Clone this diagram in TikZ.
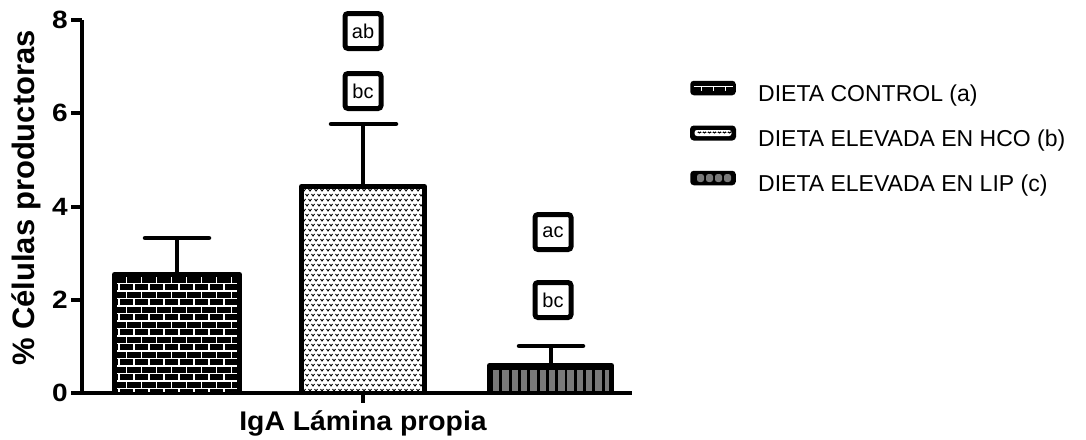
\documentclass[tikz,border=0pt]{standalone}
\usepackage{fontspec}
\setmainfont{Liberation Sans}
\begin{document}
\begin{tikzpicture}[x=1pt,y=-1pt,
  axisline/.style={line width=4.5pt},
  barout/.style={draw=black, line width=5pt, line join=round},
  errline/.style={line width=4.5pt},
  capline/.style={line width=4.5pt, line cap=round},
  letterbox/.style={draw, line width=5pt, rounded corners=3pt, fill=white, minimum width=36pt, minimum height=35pt, inner sep=0pt, font=\fontsize{20}{22}\selectfont},
  ticklab/.style={anchor=east, font=\bfseries\fontsize{25}{28}\selectfont, inner sep=0pt, xscale=1.12},
  legtext/.style={anchor=base west, font=\fontsize{23}{26}\selectfont, inner sep=0pt},
  swatch/.style={draw=black, fill=black, line width=2.5pt, rounded corners=2.5pt, minimum width=43pt, minimum height=12pt, inner sep=0pt},
  brick/.style={white, line width=1.1pt},
  vmark/.style={black, line width=0.9pt},
  graystripe/.style={fill=black!52}]
\useasboundingbox (0,0) rectangle (1086,439);

% ---------- axes ----------
\coordinate (yTop) at (82,20);
\coordinate (origin) at (82,393);
\coordinate (xEnd) at (632,393);
\draw[axisline] (yTop) -- (origin) -- (xEnd);
\foreach \v/\yy in {0/393,2/300,4/207,6/113,8/20}{
  \coordinate (t\v) at (82,\yy);
  \draw[axisline] (t\v) -- ++(-11,0);
  \node[ticklab] (tl\v) at (68,\yy) {\v};
}
\coordinate (xt) at (363,393);
\draw[axisline] (xt) -- ++(0,10);

% ---------- bar 1 (brick) ----------
\begin{scope}
  \clip (116,276) rectangle (238,391);
  \fill[black] (116,276) rectangle (238,391);
  \foreach \k in {0,...,15}{
    \pgfmathsetmacro{\yy}{276+\k*7.5}
    \draw[brick] (116,\yy) -- (238,\yy);
    \pgfmathsetmacro{\off}{mod(\k,2)*7.5}
    \foreach \m in {0,...,9}{
      \pgfmathsetmacro{\xx}{111.5+\off+\m*15}
      \draw[brick] (\xx,\yy) -- (\xx,\yy+7.5);
    }
  }
\end{scope}
\draw[barout] (114.5,393) -- (114.5,274.5) -- (239.5,274.5) -- (239.5,393);
\node[inner sep=0pt, minimum size=0pt] (bar1) at (177,274.5) {};
\coordinate (cap1) at (177,238);
\draw[errline] (bar1) -- (cap1);
\draw[capline] (145,238) -- (cap1) -- (209,238);

% ---------- bar 2 (dotted) ----------
\begin{scope}
  \clip (303,188) rectangle (423,391);
  \fill[white] (303,188) rectangle (423,391);
  \foreach \j in {0,...,41}{
    \pgfmathsetmacro{\yy}{190+\j*5}
    \pgfmathsetmacro{\off}{mod(\j,2)*3}
    \foreach \i in {0,...,20}{
      \pgfmathsetmacro{\xx}{304+\off+\i*6}
      \draw[vmark] (\xx-1.5,\yy-1) -- (\xx,\yy+1) -- (\xx+1.5,\yy-1);
    }
  }
\end{scope}
\draw[barout] (301.5,393) -- (301.5,186.5) -- (424.5,186.5) -- (424.5,393);
\node[inner sep=0pt, minimum size=0pt] (bar2) at (363,186.5) {};
\coordinate (cap2) at (363,124);
\draw[errline] (bar2) -- (cap2);
\draw[capline] (331,124) -- (cap2) -- (396,124);

% ---------- bar 3 (gray stripes) ----------
\begin{scope}
  \clip (491,367) rectangle (610,391);
  \fill[black] (491,367) rectangle (610,391);
  \foreach \k in {0,...,12}{
    \pgfmathsetmacro{\xx}{493+\k*9.3}
    \fill[graystripe] (\xx,370) rectangle (\xx+6.4,391);
  }
\end{scope}
\draw[barout] (489.5,393) -- (489.5,365.5) -- (611.5,365.5) -- (611.5,393);
\node[inner sep=0pt, minimum size=0pt] (bar3) at (551,365.5) {};
\coordinate (cap3) at (551,346);
\draw[errline] (bar3) -- (cap3);
\draw[capline] (519,346) -- (cap3) -- (583,346);

% ---------- letter boxes ----------
\node[letterbox] (ab) at (363,31) {ab};
\node[letterbox] (bc2) at (363,91) {bc};
\node[letterbox] (ac) at (553,232) {ac};
\node[letterbox] (bc3) at (553,300) {bc};

% ---------- axis labels ----------
\node[rotate=90, font=\bfseries\fontsize{31}{36}\selectfont, inner sep=0pt] (ylab) at (26,198) {\% Células productoras};
\node[anchor=base, font=\bfseries\fontsize{27}{30}\selectfont, inner sep=0pt, xscale=1.05] (xlab) at (363,430) {IgA Lámina propia};

% ---------- legend ----------
\node[swatch, path picture={
    \draw[white, line width=1pt] ([xshift=2pt,yshift=1.5pt]path picture bounding box.west) -- ([xshift=-2pt,yshift=1.5pt]path picture bounding box.east);
    \foreach \xx in {-12,0,12}{\draw[white, line width=1pt] ([xshift=\xx pt,yshift=1.5pt]path picture bounding box.center) -- ++(0,-4pt);}
  }] (sw1) at (713,88) {};
\node[legtext] (lg1) at (758,101) {DIETA CONTROL (a)};

\node[swatch, line width=3pt, path picture={
    \fill[white] ([xshift=3pt,yshift=-3pt]path picture bounding box.north west) rectangle ([xshift=-3pt,yshift=3pt]path picture bounding box.south east);
    \foreach \xx in {-15,-10,-5,0,5,10,15}{\draw[black, line width=1.2pt] ([xshift=\xx pt,yshift=1pt]path picture bounding box.center) -- ++(1.5pt,-2pt) -- ++(1.5pt,2pt);}
  }] (sw2) at (713,133) {};
\node[legtext] (lg2) at (758,146) {DIETA ELEVADA EN HCO (b)};

\node[swatch, path picture={
    \foreach \xx in {-16,-7,2,11}{\fill[black!52] ([xshift=\xx pt,yshift=-4pt]path picture bounding box.center) rectangle ++(7pt,8pt);}
  }] (sw3) at (713,178) {};
\node[legtext] (lg3) at (758,191) {DIETA ELEVADA EN LIP (c)};
\end{tikzpicture}
\end{document}
